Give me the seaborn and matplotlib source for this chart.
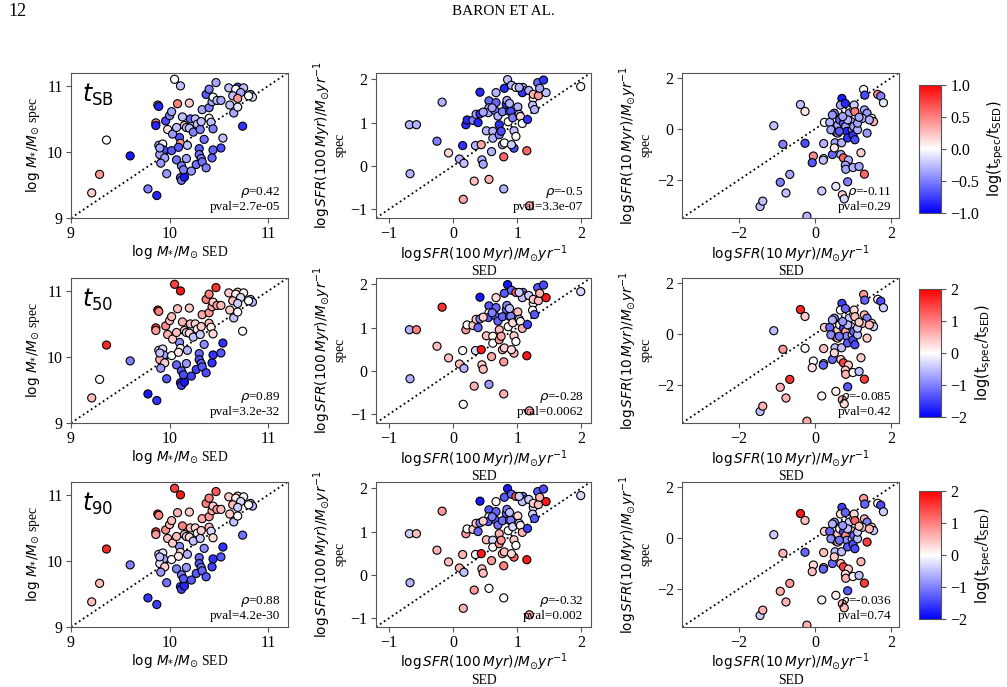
import numpy as np
import pandas as pd
import matplotlib
matplotlib.use("Agg")
import matplotlib.pyplot as plt
import seaborn as sns

plt.rcParams["font.family"] = "serif"
plt.rcParams["font.serif"] = ["Liberation Serif", "DejaVu Serif"]
plt.rcParams["mathtext.fontset"] = "dejavusans"

# ---- stellar mass (column 1) ----
mass_sed = [9.21, 9.29, 9.36, 9.60, 9.78, 9.87, 9.88, 9.89, 9.86, 9.86,
            9.98, 9.96, 10.00, 10.02, 10.05, 10.11, 10.08, 10.20, 9.89, 9.93,
            9.94, 9.90, 9.90, 9.95, 9.91, 9.97, 10.02, 10.07, 10.10, 10.11,
            10.09, 10.12, 10.11, 10.12, 10.15, 10.14, 10.17, 10.18, 10.15, 10.13,
            10.17, 10.20, 10.21, 10.22, 10.24, 10.26, 10.28, 10.31, 10.32, 10.30,
            10.30, 10.32, 10.27, 10.35, 10.33, 10.37, 10.43, 10.44, 10.52, 10.54,
            10.40, 10.42, 10.33, 10.40, 10.43, 10.37, 10.40, 10.47, 10.44, 10.48,
            10.52, 10.60, 10.69, 10.75, 10.67, 10.72, 10.64, 10.61, 10.65, 10.69,
            10.69, 10.82, 10.84, 10.80, 10.74, 10.44, 10.03, 10.07]
mass_spec = [9.38, 9.66, 10.18, 9.94, 9.44, 9.34, 10.71, 10.69, 10.44, 10.40,
             10.34, 10.47, 10.55, 10.61, 11.10, 11.00, 10.73, 10.74, 10.10, 10.12,
             10.03, 9.96, 10.06, 9.91, 9.83, 9.67, 10.02, 9.88, 10.22, 10.13,
             10.07, 9.79, 9.61, 9.57, 9.62, 9.73, 9.90, 10.10, 10.40, 10.53,
             10.37, 10.36, 10.50, 9.71, 10.30, 10.50, 10.42, 10.34, 10.46, 10.05,
             9.96, 9.90, 9.81, 10.19, 9.85, 9.76, 9.91, 10.03, 10.06, 10.21,
             10.51, 10.45, 10.64, 10.67, 10.76, 10.87, 10.95, 11.05, 10.83, 10.78,
             10.78, 10.97, 10.98, 10.97, 10.95, 10.90, 10.85, 10.71, 10.59, 10.68,
             10.81, 10.87, 10.83, 10.85, 10.39, 10.35, 10.27, 10.37]
c_sb_mass = [0.2, 0.4, 0.0, -0.9, -0.5, -0.85, 0.5, -0.85, 0.5, -0.85,
             0.1, -0.7, -0.5, -0.35, 0.0, -0.25, 0.5, 0.2, -0.35, -0.05,
             -0.7, -0.35, -0.35, -0.35, -0.4, -0.4, -0.65, -0.55, -0.7, 0.4,
             -0.65, -0.5, -0.65, -0.55, -0.9, -0.5, -0.35, -0.25, 0.2, -0.25,
             -0.25, -0.25, -0.6, -0.4, -0.5, -0.25, -0.25, -0.5, -0.25, -0.65,
             -0.55, -0.5, -0.55, -0.55, -0.55, -0.5, -0.6, -0.6, -0.7, -0.25,
             0.0, -0.25, -0.35, -0.5, -0.35, -0.65, -0.5, -0.35, 0.0, -0.25,
             -0.35, -0.25, -0.7, -0.25, 0.0, -0.35, -0.25, -0.25, -0.35, -0.1,
             0.4, -0.35, -0.15, 0.0, -0.8, -0.5, -0.4, -0.25]
c_50_mass = [0.5, 0.0, 1.7, -1.0, -1.8, -1.6, 1.6, 1.0, 1.6, 0.8,
             0.6, 0.9, 0.5, 0.5, 1.5, 1.8, 0.5, 0.4, -0.3, -0.3,
             -0.7, 0.6, -0.5, 0.4, -0.8, -1.3, 0.0, -1.2, -0.9, 0.1,
             0.2, -1.3, -1.7, -1.5, -1.8, -1.4, -0.8, -0.6, 0.4, 0.6,
             -0.3, 0.3, 0.5, -1.5, -0.5, 0.3, 0.1, -0.4, 0.4, -1.2,
             -1.4, -1.2, -1.5, -0.9, -1.3, -1.4, -1.6, -1.6, -1.3, -1.6,
             0.5, 0.1, 0.7, 0.8, 0.7, 1.0, 1.0, 1.6, 0.4, 0.8,
             0.5, 0.4, 0.3, 0.1, 0.1, -0.3, 0.5, 0.4, -0.5, 0.0,
             -0.4, -0.5, -0.6, 0.0, 0.0, 0.3, 0.4, 0.5]
c_90_mass = [0.5, 0.5, 1.7, -1.0, -1.6, -1.5, 1.6, 1.0, 1.6, 0.8,
             0.5, 0.9, 0.5, 0.5, 1.5, 1.8, 0.6, 0.4, -0.3, -0.2,
             -0.7, -0.2, -0.5, 0.4, -0.8, -1.1, 0.0, -1.0, -0.9, 0.3,
             0.2, -1.1, -1.7, -1.5, -1.7, -1.3, -0.8, -0.6, 0.5, 1.0,
             -0.3, 0.3, 0.5, -1.3, -0.5, 0.3, 0.1, -0.4, 0.4, -1.2,
             -1.3, -1.1, -1.3, -0.9, -1.2, -1.3, -1.5, -1.6, -1.3, -1.6,
             0.5, -0.3, 0.7, 0.8, 0.7, 1.0, 1.0, 1.3, 0.4, 0.8,
             0.5, 0.4, 0.3, 0.1, 0.1, -0.3, 0.5, 0.4, -0.5, 0.0,
             -0.4, -0.5, -0.6, 0.0, -1.1, 0.3, 0.4, 0.5]

# ---- SFR over 100 Myr (column 2) ----
sfr100_sed = [-0.67, -0.68, -0.57, -0.17, -0.25, -0.07, 0.10, 0.17, 0.16, 0.15,
              0.20, 0.22, 0.31, 0.35, 0.33, 0.39, 0.36, 0.42, 0.42, 0.44,
              0.45, 0.47, 0.52, 0.56, 0.56, 0.56, 0.55, 0.60, 0.62, 0.65,
              0.62, 0.67, 0.70, 0.72, 0.72, 0.75, 0.77, 0.77, 0.80, 0.79,
              0.79, 0.80, 0.83, 0.85, 0.84, 0.88, 0.86, 0.91, 0.90, 0.93,
              0.95, 0.95, 0.98, 1.01, 1.03, 1.05, 1.08, 1.09, 1.11, 1.08,
              1.15, 1.16, 1.19, 1.18, 1.25, 1.24, 1.27, 1.25, 1.33, 1.32,
              1.41, 1.45, 1.35, 1.99, 1.03, 0.88, 0.67, 0.47, 0.61, 0.98, 0.91]
sfr100_spec = [-0.18, 0.95, 0.95, 1.47, 0.57, 0.30, 0.16, 0.06, -0.77, 0.47,
               0.95, 1.06, 1.05, 0.47, -0.35, 1.00, 1.19, 1.20, 1.70, 0.49,
               0.14, 0.04, 0.81, -0.31, 1.50, 1.34, 1.23, 0.33, 0.80, 1.28,
               0.64, 1.69, 1.15, 0.95, 0.72, 0.80, 1.25, 0.49, 0.53, 0.21,
               -0.53, 1.79, 1.42, 1.99, 1.51, 1.26, 1.02, 1.86, 1.26, 1.11,
               0.81, 0.41, 1.81, 1.36, 1.19, 1.14, 0.98, 1.81, 1.73, 1.69,
               0.35, 1.07, -0.92, 1.74, 1.56, 1.40, 1.30, 1.65, 1.62, 1.92,
               1.98, 1.69, 1.79, 1.83, 1.81, 1.44, 1.46, 1.24, 1.34, 0.68, 0.49]
c_sb_sfr100 = [-0.3, -0.3, -0.3, -0.3, -0.5, 0.15, -0.3, -0.25, 0.35, -0.8,
               -0.85, -0.85, -0.5, -0.3, 0.25, -0.85, -0.35, -0.8, -0.85, 0.35,
               -0.3, -0.35, -0.3, 0.3, -0.6, -0.35, -0.35, -0.3, -0.3, -0.5,
               -0.3, -0.3, -0.3, -0.8, -0.5, -0.7, -0.5, -0.3, 0.0, 0.6,
               -0.3, -0.85, -0.8, -0.25, -0.35, -0.3, 0.0, -0.3, -0.7, -0.5,
               -0.25, -0.7, 0.0, -0.3, -0.3, 0.15, 0.0, -0.3, -0.3, -0.8,
               0.6, -0.8, 0.35, -0.3, 0.0, -0.25, -0.3, 0.3, 0.4, -0.6,
               -0.8, -0.25, -0.35, 0.0, -0.3, -0.3, -0.6, -0.35, -0.35, 0.0, -0.2]
c_50_sfr100 = [-0.6, -0.6, 1.0, 1.6, 0.5, 0.5, 0.5, -0.6, 0.0, 0.0,
               0.8, 0.0, 0.4, -0.3, 0.6, -1.2, 0.4, -1.0, -1.8, 1.8,
               0.4, 0.5, 0.5, -0.8, -1.3, 0.0, -1.3, 0.7, 0.0, -1.2,
               0.0, 0.3, -1.2, 0.5, 0.8, 0.7, -1.2, 0.5, 0.4, 0.8,
               0.6, -1.3, -1.2, -1.8, -1.0, -0.5, 0.0, -1.2, -1.0, 0.3,
               0.4, 0.6, 1.3, 0.5, -0.5, 0.1, 0.6, -1.0, -1.2, -0.5,
               1.8, -1.5, 0.7, -0.4, 0.0, 0.0, -1.3, 0.4, 0.5, -1.3,
               -1.4, 1.8, 0.6, -0.3, -0.4, -0.5, -1.2, 0.4, -1.0, 0.0, 0.3]
c_90_sfr100 = [-0.6, -0.4, 0.5, 0.8, 0.6, 0.5, 0.6, -0.5, 0.6, 0.6,
               0.8, 0.0, 0.4, -0.1, 0.8, -1.2, 0.4, -1.0, -1.8, 1.8,
               0.5, 0.5, 0.5, 0.0, -1.3, 0.0, -1.3, 0.8, -0.3, -1.2,
               0.0, 0.0, -1.1, 0.6, 0.9, 0.8, -1.1, 0.6, 0.5, 1.0,
               0.0, -1.3, -1.2, -1.8, -1.0, -0.5, 0.0, -1.2, -1.0, -0.3,
               0.4, 1.2, 1.3, 0.3, -0.5, 0.1, 0.6, -1.0, -1.2, -0.5,
               1.8, -1.5, 0.7, -0.4, -0.3, -0.4, -1.3, 0.4, 0.5, -1.3,
               -1.4, 1.8, 0.6, -0.3, -0.4, -0.5, -1.2, 0.4, -1.0, 0.0, 0.3]

# ---- SFR over 10 Myr (column 3) ----
sfr10_sed = [-1.45, -1.38, -0.92, -0.77, -0.67, -0.85, -1.09, -0.39, -0.27, -0.27,
             -0.22, -0.05, -0.08, 0.24, 0.22, 0.22, 0.21, 0.17, 0.38, 0.45,
             0.50, 0.54, 0.52, 0.50, 0.55, 0.59, 0.64, 0.70, 0.66, 0.69,
             0.67, 0.74, 0.71, 0.76, 0.79, 0.74, 0.80, 0.83, 0.85, 0.87,
             0.79, 0.80, 0.85, 0.89, 0.94, 0.97, 0.99, 1.01, 1.02, 1.04,
             1.01, 1.04, 0.99, 1.11, 1.11, 1.15, 1.20, 1.29, 1.27, 1.30,
             1.29, 1.36, 1.24, 1.36, 1.48, 1.53, 1.64, 1.72, 1.79, 0.41,
             0.59, 0.85, 1.15, 0.45, 1.42, 0.72, 0.63]
sfr10_spec = [-3.05, -2.84, -2.10, -2.52, -1.79, -0.61, 0.12, 0.95, 0.68, -0.57,
              -3.43, -1.07, -1.33, 0.25, -0.58, -1.17, -1.23, -2.44, 0.25, -1.01,
              0.61, -2.26, -0.55, -0.75, -0.14, 0.15, 0.35, 1.19, 0.93, -0.55,
              -1.01, -1.14, -2.59, -2.75, 0.99, 0.22, 0.09, -0.10, -0.36, -1.23,
              -1.43, -1.59, -2.08, 0.61, 0.28, -0.04, -0.25, 0.76, 0.93, 0.67,
              0.09, -0.43, -1.52, -0.04, 0.22, -1.48, -0.94, -1.78, 1.54, 1.32,
              0.74, 0.61, 0.41, -0.17, 0.41, 0.28, 1.35, 1.28, 1.02, -0.04,
              -0.17, 0.35, 0.45, 0.54, 0.35, 0.48, -0.10]
c_sb_sfr10 = [-0.25, -0.25, -0.5, -0.25, -0.35, -0.5, -0.25, -0.25, 0.1, -0.7,
              -0.3, 0.45, -0.65, 0.0, -0.3, 0.0, -0.25, -0.2, -0.3, -0.6,
              -0.5, -0.1, -0.35, 0.1, -0.7, -0.35, -0.6, -0.9, -0.35, -0.3,
              -0.3, 0.6, 0.2, -0.15, -0.85, -0.7, -0.35, -0.85, -0.8, -0.3,
              -0.35, -0.35, -0.5, -0.35, -0.3, -0.5, -0.8, -0.25, -0.2, 0.5,
              -0.35, -0.7, -0.3, -0.3, -0.35, -0.35, 0.2, 0.6, 0.0, -0.7,
              -0.35, -0.4, -0.3, -0.4, 0.0, 0.3, 0.45, -0.5, -0.1, -0.35,
              -0.4, -0.3, -0.35, -0.4, -0.3, -0.35, -0.65]
c_50_sfr10 = [-0.5, 0.6, 0.6, 0.6, 1.6, 0.8, -0.5, 1.7, 0.4, 0.0,
              0.7, 0.0, 0.2, 0.4, 0.5, -0.5, -1.2, 0.1, -1.2, -1.2,
              -0.9, 0.1, -0.5, 0.3, -1.2, 0.4, 0.1, -1.5, 0.0, -0.5,
              0.4, 1.5, 0.6, 0.3, -1.2, -1.5, 0.7, -0.9, -1.3, 0.4,
              0.4, 0.6, -1.3, -0.4, 0.4, -0.5, -1.4, 0.0, 0.3, 0.5,
              -1.2, -1.4, 0.0, -0.5, -0.4, -0.5, 0.4, 1.5, 0.8, -1.2,
              0.6, -1.0, 0.4, 0.4, 0.3, -0.4, 0.1, -1.4, -0.4, -0.9,
              0.5, -0.5, 0.4, -0.6, 0.5, -0.8, -1.1]
c_90_sfr10 = [-0.4, 0.6, 0.6, 0.6, 0.8, 0.6, -0.4, 1.8, 0.5, -1.2,
              0.6, 0.3, 0.5, 0.4, 0.5, 0.3, -1.2, 0.1, -1.2, -1.2,
              -0.9, 0.1, -0.5, 0.4, -1.2, 0.4, 0.1, -1.5, 0.3, -0.5,
              0.5, 1.5, 0.6, 0.5, -1.2, -1.5, 0.9, -0.9, -1.3, 0.4,
              0.3, 0.6, -1.3, -0.4, 0.4, -0.5, -1.4, 0.0, 0.3, 1.2,
              -1.2, -1.4, 0.0, -0.5, -0.4, -0.5, 0.6, 1.5, 0.8, -1.2,
              0.6, -1.0, 0.4, 1.5, 0.3, -0.4, 0.1, -1.4, -0.4, -0.9,
              0.5, -0.5, 0.4, -0.6, 0.5, -0.8, -1.1]

row_labels = [r"$t_{\rm SB}$", r"$t_{50}$", r"$t_{90}$"]
rho_vals = [["0.42", "-0.5", "-0.11"],
            ["0.89", "-0.28", "-0.085"],
            ["0.88", "-0.32", "-0.036"]]
pval_vals = [["2.7e-05", "3.3e-07", "0.29"],
             ["3.2e-32", "0.0062", "0.42"],
             ["4.2e-30", "0.002", "0.74"]]
cbar_ranges = [1.0, 2.0, 2.0]

columns = [
    dict(x=mass_sed, y=mass_spec, c=[c_sb_mass, c_50_mass, c_90_mass],
         lim=(9, 11.2), ticks=[9, 10, 11],
         xlabel=r"$\log\,M_{*}/M_{\odot}$ SED", ylabel=r"$\log\,M_{*}/M_{\odot}$ spec"),
    dict(x=sfr100_sed, y=sfr100_spec, c=[c_sb_sfr100, c_50_sfr100, c_90_sfr100],
         lim=(-1.2, 2.15), ticks=[-1, 0, 1, 2],
         xlabel=r"$\log SFR(100\,Myr)/M_{\odot}yr^{-1}$" + "\nSED",
         ylabel=r"$\log SFR(100\,Myr)/M_{\odot}yr^{-1}$" + "\nspec"),
    dict(x=sfr10_sed, y=sfr10_spec, c=[c_sb_sfr10, c_50_sfr10, c_90_sfr10],
         lim=(-3.5, 2.2), ticks=[-2, 0, 2],
         xlabel=r"$\log SFR(10\,Myr)/M_{\odot}yr^{-1}$" + "\nSED",
         ylabel=r"$\log SFR(10\,Myr)/M_{\odot}yr^{-1}$" + "\nspec"),
]

fig = plt.figure(figsize=(10.07, 6.87), dpi=100)

col_left = [0.0705, 0.3734, 0.6773]
col_width = [0.2155, 0.2135, 0.2155]
row_bottom = [0.6827, 0.3843, 0.0874]
row_height = 0.2115
cb_bottom = [0.690, 0.393, 0.0985]

for r in range(3):
    vmax = cbar_ranges[r]
    for c, col in enumerate(columns):
        ax = fig.add_axes([col_left[c], row_bottom[r], col_width[c], row_height])
        df = pd.DataFrame({"sed": col["x"], "spec": col["y"], "dt": col["c"][r]})
        sns.scatterplot(data=df, x="sed", y="spec", hue="dt", palette="bwr",
                        hue_norm=(-vmax, vmax), edgecolor="black", linewidth=0.8,
                        s=34, legend=False, ax=ax, zorder=3)
        lo, hi = col["lim"]
        ax.plot([lo, hi], [lo, hi], ":", color="black", lw=1.3, zorder=2)
        ax.set_xlim(lo, hi)
        ax.set_ylim(lo, hi)
        ax.set_xticks(col["ticks"])
        ax.set_yticks(col["ticks"])
        ax.tick_params(labelsize=11.5, color="#555555", pad=2.5)
        for sp in ax.spines.values():
            sp.set_color("#555555")
        ax.set_xlabel(col["xlabel"], fontsize=9.8, labelpad=0.5, linespacing=1.05)
        ax.set_ylabel(col["ylabel"], fontsize=9.8, labelpad=3, linespacing=1.1)
        ax.text(0.965, 0.035, r"$\rho$=" + rho_vals[r][c] + "\npval=" + pval_vals[r][c],
                transform=ax.transAxes, ha="right", va="bottom", fontsize=9.5,
                multialignment="right", linespacing=1.05, zorder=5)
        if c == 0:
            ax.text(0.05, 0.94, row_labels[r], transform=ax.transAxes,
                    ha="left", va="top", fontsize=17)

    cax = fig.add_axes([0.9126, cb_bottom[r], 0.0218, 0.1863])
    sm = plt.cm.ScalarMappable(cmap="bwr", norm=plt.Normalize(-vmax, vmax))
    cb = fig.colorbar(sm, cax=cax)
    if vmax == 1.0:
        cb.set_ticks([-1.0, -0.5, 0.0, 0.5, 1.0])
        cb.set_ticklabels(["\u22121.0", "\u22120.5", "0.0", "0.5", "1.0"])
    else:
        cb.set_ticks([-2, -1, 0, 1, 2])
    cb.ax.tick_params(labelsize=11.5, color="#555555")
    cb.outline.set_edgecolor("#555555")
    cb.set_label(r"$\mathrm{log(t_{spec}/t_{SED})}$", fontsize=10.5, labelpad=4)

# page header
fig.text(0.008, 0.983, "12", fontsize=13, ha="left", va="center")
fig.text(0.5, 0.983, "BARON ET AL.", fontsize=11, ha="center", va="center")

fig.savefig("out.png", dpi=100)
